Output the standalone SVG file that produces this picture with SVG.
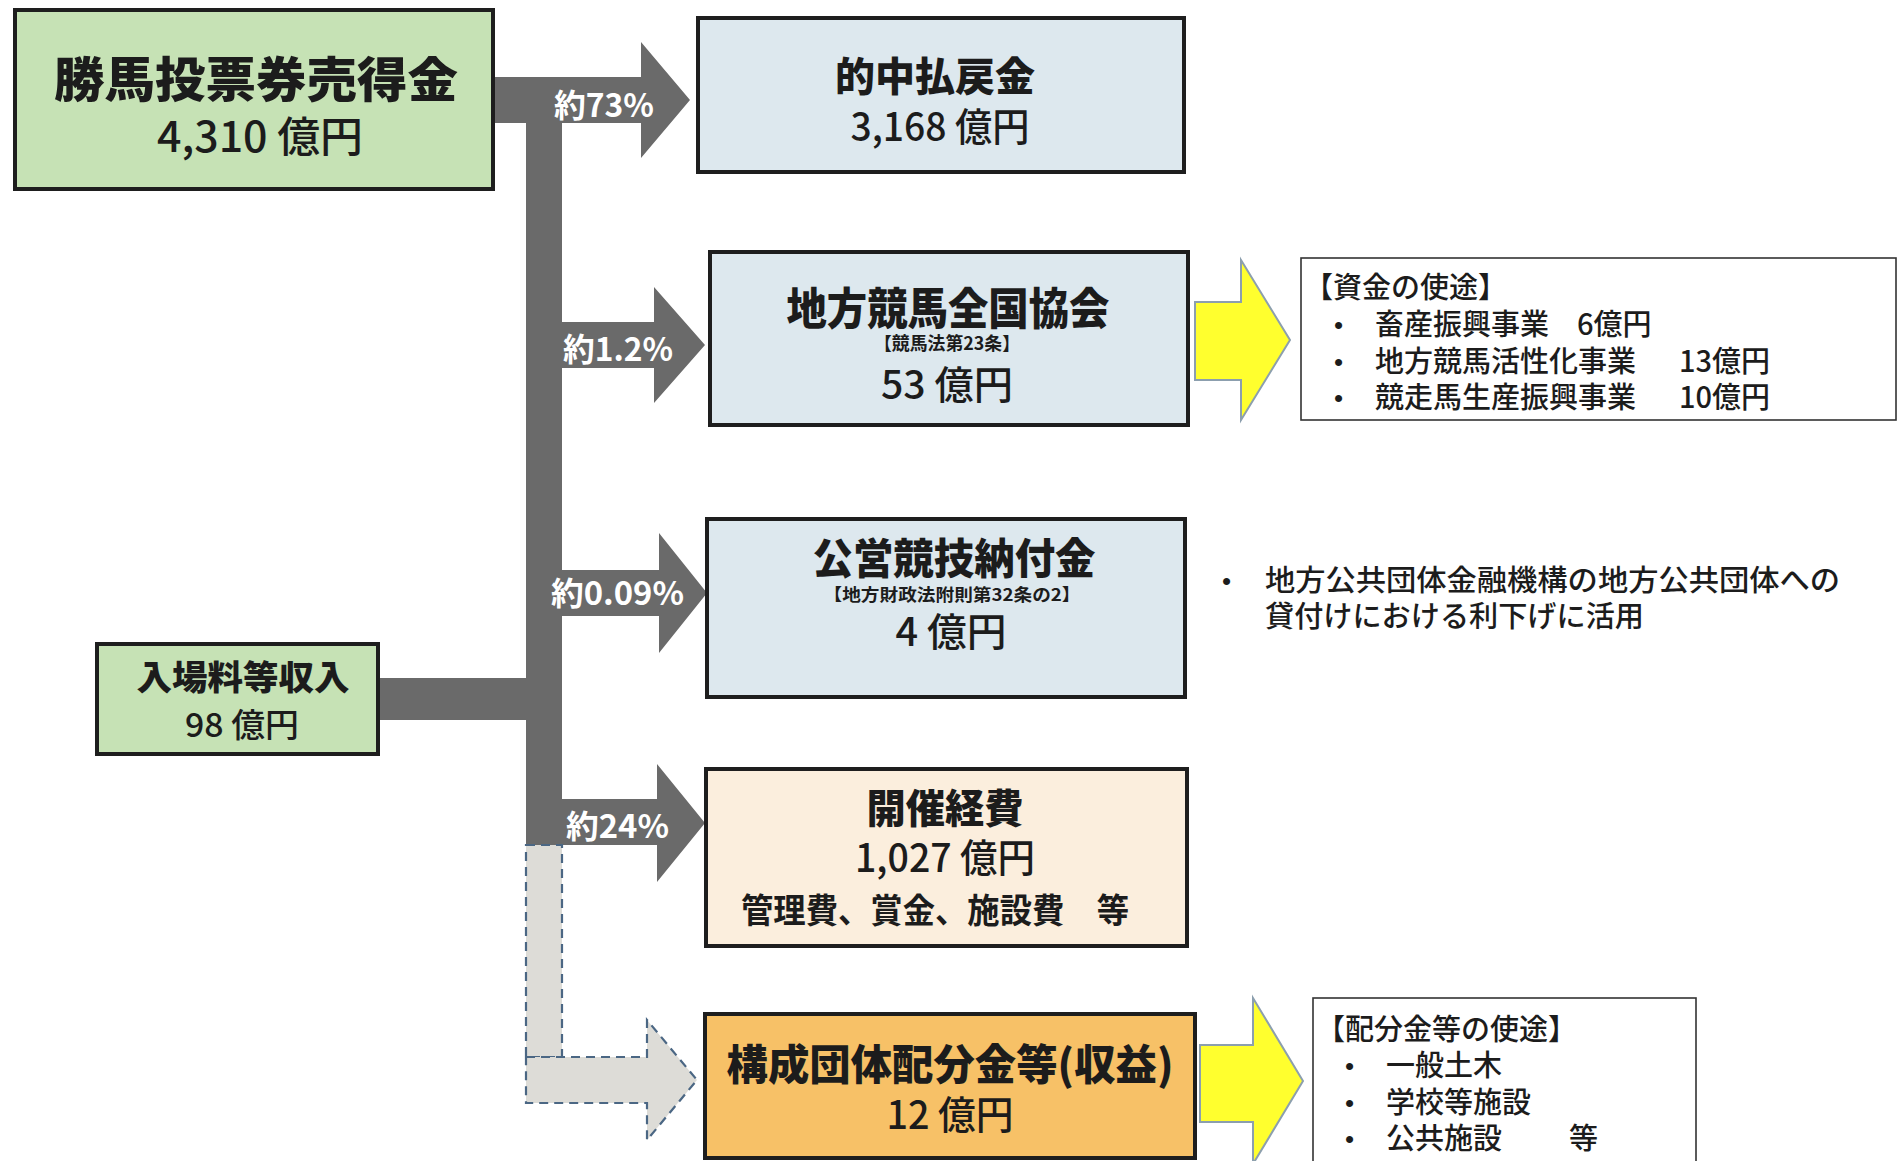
<svg xmlns="http://www.w3.org/2000/svg" width="1898" height="1161" viewBox="0 0 1898 1161">
<style>
.box{stroke:#1e1e1e;stroke-width:4}
.note{fill:#ffffff;stroke:#333333;stroke-width:1.6}
.flow{fill:#6a6a6a}
.dash{fill:#dddcd7;stroke:#4b6784;stroke-width:2.2;stroke-dasharray:9 6}
.yel{fill:#ffff2e;stroke:#8c9fae;stroke-width:2}
.ttl{font-family:"Noto Sans CJK JP",sans-serif;font-weight:900;fill:#1c1c1c;text-anchor:middle}
.amt{font-family:"Liberation Sans Narrow","Noto Sans CJK JP",sans-serif;font-weight:500;fill:#1c1c1c;text-anchor:middle}
.sub{font-family:"Noto Sans CJK JP",sans-serif;font-weight:700;fill:#1c1c1c;text-anchor:middle}
.lbl{font-family:"Liberation Sans Narrow","Noto Sans CJK JP",sans-serif;font-weight:700;fill:#ffffff}
.body{font-family:"Noto Sans CJK JP",sans-serif;font-weight:500;fill:#1c1c1c;font-size:29px}
.bul{font-family:"Liberation Sans",sans-serif;fill:#1c1c1c;font-size:26px}
</style>
<rect x="0" y="0" width="1898" height="1161" fill="#ffffff"/>

<g id="connectors">
  <path class="flow" d="M493,77 H641 V42 L690,100 L641,158 V123 H562 V322 H654 V287 L705,345 L654,403 V368 H562 V570 H659 V533 L707,593 L659,653 V616 H562 V799 H657 V764 L705,823 L657,882 V845 H526 V720 H378 V678 H526 V123 H493 Z"/>
  <rect class="dash" x="526" y="845" width="36" height="212"/>
  <path class="dash" d="M526,1057 H647 V1020 L697,1080 L647,1140 V1103 H526 Z"/>
  <path class="yel" d="M1195,302 H1241 V260 L1290,340 L1241,420 V380 H1195 Z"/>
  <path class="yel" d="M1200,1045 H1253 V998 L1303,1081 L1253,1164 V1122 H1200 Z"/>
  <text class="lbl" x="554" y="117" font-size="32" textLength="100" lengthAdjust="spacingAndGlyphs">約73%</text>
  <text class="lbl" x="563" y="361" font-size="32" textLength="110" lengthAdjust="spacingAndGlyphs">約1.2%</text>
  <text class="lbl" x="551" y="605" font-size="32" textLength="133" lengthAdjust="spacingAndGlyphs">約0.09%</text>
  <text class="lbl" x="566" y="838" font-size="32" textLength="103" lengthAdjust="spacingAndGlyphs">約24%</text>
</g>

<g id="node-baken">
  <rect class="box" x="15" y="10" width="478" height="179" fill="#c6e2b5"/>
  <text class="ttl" x="256" y="97" font-size="48" textLength="404" lengthAdjust="spacingAndGlyphs">勝馬投票券売得金</text>
  <text class="amt" x="260" y="152" font-size="42" textLength="206" lengthAdjust="spacingAndGlyphs">4,310 億円</text>
</g>

<g id="node-nyujo">
  <rect class="box" x="97" y="644" width="281" height="110" fill="#c6e2b5"/>
  <text class="ttl" x="243" y="690" font-size="34" textLength="213" lengthAdjust="spacingAndGlyphs">入場料等収入</text>
  <text class="amt" x="242" y="737" font-size="33" textLength="114" lengthAdjust="spacingAndGlyphs">98 億円</text>
</g>

<g id="node-tekichu">
  <rect class="box" x="698" y="18" width="486" height="154" fill="#dde8ee"/>
  <text class="ttl" x="935" y="91" font-size="40" textLength="200" lengthAdjust="spacingAndGlyphs">的中払戻金</text>
  <text class="amt" x="940" y="141" font-size="39" textLength="179" lengthAdjust="spacingAndGlyphs">3,168 億円</text>
</g>

<g id="node-chiho">
  <rect class="box" x="710" y="252" width="478" height="173" fill="#dde8ee"/>
  <text class="ttl" x="948" y="325" font-size="44" textLength="323" lengthAdjust="spacingAndGlyphs">地方競馬全国協会</text>
  <text class="sub" x="947" y="350" font-size="18" textLength="146" lengthAdjust="spacingAndGlyphs">【競馬法第23条】</text>
  <text class="amt" x="947" y="399" font-size="39" textLength="132" lengthAdjust="spacingAndGlyphs">53 億円</text>
</g>

<g id="node-shikin">
  <rect class="note" x="1301" y="258" width="595" height="162"/>
  <text class="body" x="1304" y="298">【資金の使途】</text>
  <text class="bul" x="1334" y="334">•</text>
  <text class="body" x="1375" y="335">畜産振興事業</text>
  <text class="body" x="1577" y="335">6億円</text>
  <text class="bul" x="1334" y="371">•</text>
  <text class="body" x="1375" y="372">地方競馬活性化事業</text>
  <text class="body" x="1679" y="372">13億円</text>
  <text class="bul" x="1334" y="407">•</text>
  <text class="body" x="1375" y="408">競走馬生産振興事業</text>
  <text class="body" x="1679" y="408">10億円</text>
</g>

<g id="node-koei">
  <rect class="box" x="707" y="519" width="478" height="178" fill="#dde8ee"/>
  <text class="ttl" x="954" y="574" font-size="42" textLength="283" lengthAdjust="spacingAndGlyphs">公営競技納付金</text>
  <text class="sub" x="952" y="601" font-size="17" textLength="257" lengthAdjust="spacingAndGlyphs">【地方財政法附則第32条の2】</text>
  <text class="amt" x="951" y="646" font-size="39" textLength="111" lengthAdjust="spacingAndGlyphs">4 億円</text>
</g>

<g id="node-koei-note">
  <text class="bul" x="1222" y="590">•</text>
  <text class="body" x="1265" y="591" textLength="575" lengthAdjust="spacingAndGlyphs">地方公共団体金融機構の地方公共団体への</text>
  <text class="body" x="1265" y="627" textLength="379" lengthAdjust="spacingAndGlyphs">貸付けにおける利下げに活用</text>
</g>

<g id="node-kaisai">
  <rect class="box" x="706" y="769" width="481" height="177" fill="#fbeedd"/>
  <text class="ttl" x="945" y="823" font-size="40" textLength="157" lengthAdjust="spacingAndGlyphs">開催経費</text>
  <text class="amt" x="945" y="872" font-size="39" textLength="180" lengthAdjust="spacingAndGlyphs">1,027 億円</text>
  <text class="sub" x="935" y="923" font-size="34" font-weight="500" textLength="388" lengthAdjust="spacingAndGlyphs">管理費、賞金、施設費　等</text>
</g>

<g id="node-kosei">
  <rect class="box" x="705" y="1014" width="490" height="144" fill="#f7c167"/>
  <text class="ttl" x="950" y="1080" font-size="42" textLength="447" lengthAdjust="spacingAndGlyphs">構成団体配分金等(収益)</text>
  <text class="amt" x="950" y="1129" font-size="39" textLength="127" lengthAdjust="spacingAndGlyphs">12 億円</text>
</g>

<g id="node-haibun">
  <rect class="note" x="1313" y="998" width="383" height="170"/>
  <text class="body" x="1316" y="1040">【配分金等の使途】</text>
  <text class="bul" x="1345" y="1075">•</text>
  <text class="body" x="1386" y="1076">一般土木</text>
  <text class="bul" x="1345" y="1112">•</text>
  <text class="body" x="1386" y="1113">学校等施設</text>
  <text class="bul" x="1345" y="1148">•</text>
  <text class="body" x="1386" y="1149">公共施設</text>
  <text class="body" x="1569" y="1149">等</text>
</g>
</svg>
